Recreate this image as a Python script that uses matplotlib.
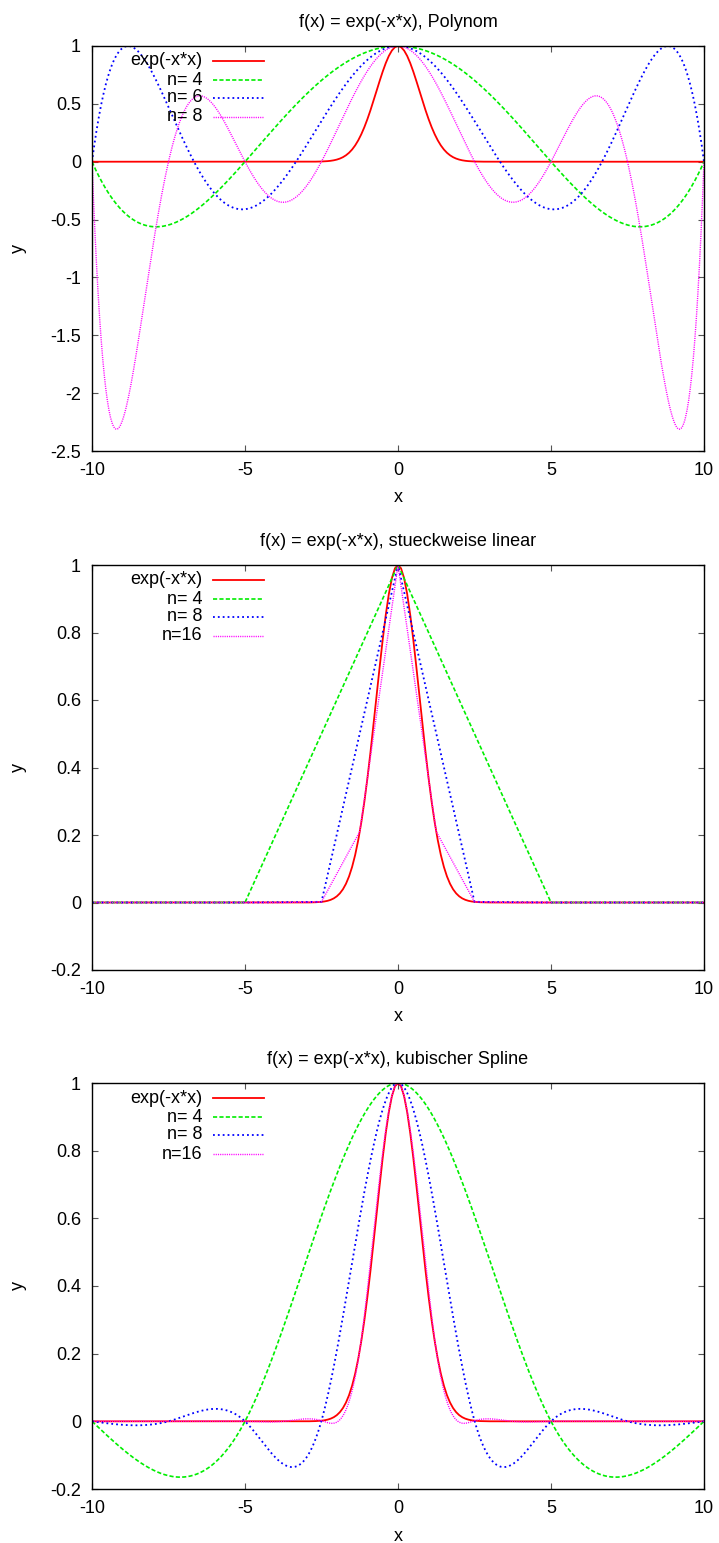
import numpy as np
import matplotlib
matplotlib.use('Agg')
import matplotlib.pyplot as plt
from matplotlib.lines import Line2D

plt.rcParams['font.family'] = ['Liberation Sans', 'DejaVu Sans']
plt.rcParams['lines.scale_dashes'] = False

# ---------------- data ----------------
titles = ['f(x) = exp(-x*x), Polynom',
          'f(x) = exp(-x*x), stueckweise linear',
          'f(x) = exp(-x*x), kubischer Spline']
func_label = 'exp(-x*x)'
x_min, x_max = -10, 10

# sampled reference function (as named in the titles)
f_x = np.linspace(x_min, x_max, 201)
f_y = np.exp(-f_x * f_x)

# interpolation nodes
nodes4_x = [-10, -5, 0, 5, 10]
nodes4_y = [0, 0, 1, 0, 0]
nodes6_x = [-10, -6.667, -3.333, 0, 3.333, 6.667, 10]
nodes6_y = [0, 0, 0, 1, 0, 0, 0]
nodes8_x = [-10, -7.5, -5, -2.5, 0, 2.5, 5, 7.5, 10]
nodes8_y = [0, 0, 0, 0.002, 1, 0.002, 0, 0, 0]
nodes16_x = [-10, -8.75, -7.5, -6.25, -5, -3.75, -2.5, -1.25, 0,
             1.25, 2.5, 3.75, 5, 6.25, 7.5, 8.75, 10]
nodes16_y = [0, 0, 0, 0, 0, 0, 0.002, 0.21, 1,
             0.21, 0.002, 0, 0, 0, 0, 0, 0]

poly_labels = ['n= 4', 'n= 6', 'n= 8']
lin_labels = ['n= 4', 'n= 8', 'n=16']
spline_labels = ['n= 4', 'n= 8', 'n=16']

yticks_1 = [-2.5, -2, -1.5, -1, -0.5, 0, 0.5, 1]
yticks_23 = [-0.2, 0, 0.2, 0.4, 0.6, 0.8, 1]
xticks = [-10, -5, 0, 5, 10]

FS = 13


# ---------------- interpolation helpers ----------------
def lagrange(xn, yn, x):
    xn = np.asarray(xn, float); yn = np.asarray(yn, float)
    out = np.zeros_like(x)
    for i in range(len(xn)):
        li = np.ones_like(x)
        for j in range(len(xn)):
            if j != i:
                li *= (x - xn[j]) / (xn[i] - xn[j])
        out += yn[i] * li
    return out


def natural_spline(xn, yn, x):
    xn = np.asarray(xn, float); yn = np.asarray(yn, float)
    n = len(xn) - 1
    h = np.diff(xn)
    A = np.zeros((n + 1, n + 1)); b = np.zeros(n + 1)
    A[0, 0] = 1; A[n, n] = 1
    for i in range(1, n):
        A[i, i - 1] = h[i - 1] / 6
        A[i, i] = (h[i - 1] + h[i]) / 3
        A[i, i + 1] = h[i] / 6
        b[i] = (yn[i + 1] - yn[i]) / h[i] - (yn[i] - yn[i - 1]) / h[i - 1]
    M = np.linalg.solve(A, b)
    idx = np.clip(np.searchsorted(xn, x) - 1, 0, n - 1)
    x0 = xn[idx]; x1 = xn[idx + 1]; hh = h[idx]
    return (M[idx] * (x1 - x) ** 3 / (6 * hh) + M[idx + 1] * (x - x0) ** 3 / (6 * hh)
            + (yn[idx] / hh - M[idx] * hh / 6) * (x1 - x)
            + (yn[idx + 1] / hh - M[idx + 1] * hh / 6) * (x - x0))


# ---------------- styles ----------------
st_f = dict(color='#ff0000', lw=1.3, linestyle='-')
st_2 = dict(color='#00ee00', lw=1.2, linestyle=(0, (3.0, 1.6)))
st_3 = dict(color='#0000ff', lw=1.3, linestyle=(0, (1.3, 2.2)))
st_4 = dict(color='#ff00ff', lw=1.0, linestyle=(0, (0.8, 0.8)))
styles = [st_f, st_2, st_3, st_4]

fig = plt.figure(figsize=(7.19, 15.43), dpi=100)
W, H = 719, 1543
left, right = 92, 704
panels_px = [(46, 451), (565, 970), (1083, 1489)]
axes = []
for top, bot in panels_px:
    axes.append(fig.add_axes([left / W, 1 - bot / H, (right - left) / W, (bot - top) / H]))

xs = np.linspace(x_min, x_max, 801)


def fmt(v):
    return '%g' % v


def style_axes(ax, title, yticks, ylim):
    ax.set_xlim(x_min, x_max)
    ax.set_ylim(*ylim)
    ax.set_xticks(xticks)
    ax.set_xticklabels([fmt(v) for v in xticks])
    ax.set_yticks(yticks)
    ax.set_yticklabels([fmt(v) for v in yticks])
    ax.tick_params(direction='in', length=4.5, width=0.8, color='#555555',
                   top=True, right=True, labelsize=FS, pad=8.0)
    for s in ax.spines.values():
        s.set_linewidth(1.0)
        s.set_color('black')
    ax.set_title(title, fontsize=FS, pad=14)
    ax.set_xlabel('x', fontsize=FS)
    ax.set_ylabel('y', fontsize=FS)
    ax.xaxis.set_label_coords(0.5, -0.116)
    ax.xaxis.label.set_va('center')
    ax.yaxis.set_label_coords(-0.121, 0.5)
    ax.yaxis.label.set_va('center')


def draw_key(ax, labels):
    ys = [0.963, 0.916, 0.872, 0.825]
    for lab, st, y in zip(labels, styles, ys):
        ax.text(0.180, y, lab, transform=ax.transAxes, ha='right', va='center', fontsize=FS)
        ax.add_line(Line2D([0.198, 0.281], [y, y], transform=ax.transAxes, **st))


# Panel 1: polynomial
ax = axes[0]
ax.plot(f_x, f_y, **st_f)
for (nx, ny), st in zip([(nodes4_x, nodes4_y), (nodes6_x, nodes6_y), (nodes8_x, nodes8_y)], styles[1:]):
    ax.plot(xs, lagrange(nx, ny, xs), **st)
style_axes(ax, titles[0], yticks_1, (-2.5, 1))
draw_key(ax, [func_label] + poly_labels)

# Panel 2: piecewise linear
ax = axes[1]
ax.plot(f_x, f_y, **st_f)
for (nx, ny), st in zip([(nodes4_x, nodes4_y), (nodes8_x, nodes8_y), (nodes16_x, nodes16_y)], styles[1:]):
    ax.plot(nx, ny, **st)
style_axes(ax, titles[1], yticks_23, (-0.2, 1))
draw_key(ax, [func_label] + lin_labels)

# Panel 3: cubic spline
ax = axes[2]
ax.plot(f_x, f_y, **st_f)
for (nx, ny), st in zip([(nodes4_x, nodes4_y), (nodes8_x, nodes8_y), (nodes16_x, nodes16_y)], styles[1:]):
    ax.plot(xs, natural_spline(nx, ny, xs), **st)
style_axes(ax, titles[2], yticks_23, (-0.2, 1))
draw_key(ax, [func_label] + spline_labels)

fig.savefig('out.png', dpi=100, facecolor='white')
